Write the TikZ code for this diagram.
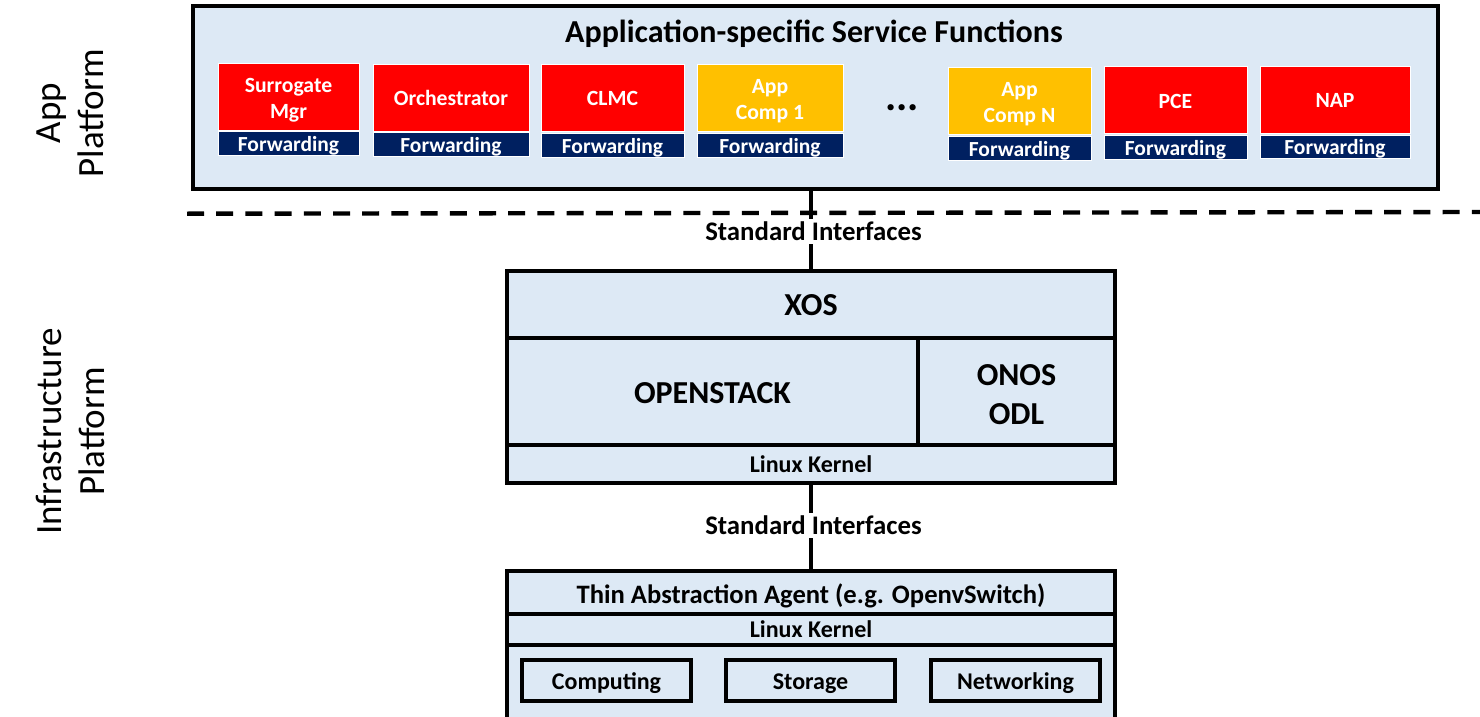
\documentclass[tikz,border=0pt]{standalone}
\usepackage{fontspec}
\setmainfont{Carlito}
\newcommand{\fs}[1]{\fontsize{#1}{#1}\selectfont}
\newcommand{\dn}[2]{\raisebox{-#1pt}[\height][\depth]{#2}}
\newcommand{\bx}[7]{%
 \pgfmathsetmacro{\bxw}{#4-#2}\pgfmathsetmacro{\bxh}{#5-#3}%
 \pgfmathsetmacro{\bxx}{(#4+#2)/2}\pgfmathsetmacro{\bxy}{(#5+#3)/2}%
 \node[#6,minimum width=\bxw pt,minimum height=\bxh pt] (#1) at (\bxx,\bxy) {#7};}
\definecolor{panelblue}{HTML}{DDE9F5}
\definecolor{amberc}{HTML}{FFC000}
\definecolor{navyc}{HTML}{002060}
\tikzset{
 x=1pt,y=-1pt,
 every node/.style={inner sep=0pt,outer sep=0pt,font=\bfseries,align=center},
 panel/.style={draw=black,line width=4.3pt,fill=panelblue},
 inner/.style={draw=black,line width=4.3pt,fill=panelblue},
 redbox/.style={draw=white,line width=1pt,fill=red,text=white,font=\bfseries\fs{21.7}},
 ambox/.style={draw=white,line width=1pt,fill=amberc,text=white,font=\bfseries\fs{21.7}},
 fwbox/.style={draw=white,line width=1pt,fill=navyc,text=white,font=\bfseries\fs{21.5}},
 conn/.style={draw=black,line width=4pt},
 lab/.style={font=\bfseries\fs{26.8},outer sep=3pt},
 side/.style={font=\fs{37},rotate=90,align=center},
}
\begin{document}
\begin{tikzpicture}
\useasboundingbox (0,0) rectangle (1480,717);
\coordinate (dl) at (187,213.7);
\coordinate (dr) at (1480,212);
\draw[black,line width=4.4pt,dash pattern=on 17pt off 12.2pt] (dl) -- (dr);
\bx{app}{193}{6}{1438}{189}{panel}{}
\node[font=\bfseries\fs{32}] (title) at (814,33.5) {Application-specific Service Functions};
\bx{s1}{218}{64}{359}{130}{redbox}{\rule{0pt}{21pt}Surrogate\\[4pt]Mgr}
\bx{f1}{218}{131}{359}{155}{fwbox}{\dn{2.5}{Forwarding}}
\bx{s2}{373}{65}{529}{131}{redbox}{Orchestrator}
\bx{f2}{373}{132}{529}{156}{fwbox}{\dn{2.5}{Forwarding}}
\bx{s3}{541}{65}{684}{131}{redbox}{CLMC}
\bx{f3}{541}{133}{684}{157}{fwbox}{\dn{2.5}{Forwarding}}
\bx{s4}{697}{65}{843}{131}{ambox}{\rule{0pt}{21pt}App\\[4pt]Comp 1}
\bx{f4}{697}{133}{843}{157}{fwbox}{\dn{2.5}{Forwarding}}
\node[font=\bfseries\fs{42}] (dots) at (902,108) {...};
\bx{s5}{948}{68}{1091}{134}{ambox}{\rule{0pt}{21pt}App\\[4pt]Comp N}
\bx{f5}{948}{136}{1091}{160}{fwbox}{\dn{2.5}{Forwarding}}
\bx{s6}{1104}{67}{1247}{133}{redbox}{\dn{1}{PCE}}
\bx{f6}{1104}{135}{1247}{159}{fwbox}{\dn{2.5}{Forwarding}}
\bx{s7}{1260}{67}{1410}{133}{redbox}{NAP}
\bx{f7}{1260}{135}{1410}{158}{fwbox}{\dn{2.5}{Forwarding}}
\bx{xos}{507}{271}{1115}{338}{inner,font=\bfseries\fs{32}}{\dn{1}{XOS}}
\bx{ostack}{507}{338}{918}{445}{inner,font=\bfseries\fs{32}}{\dn{2}{OPENSTACK}}
\bx{onos}{918}{338}{1115}{445}{inner,font=\bfseries\fs{32}}{\rule{0pt}{27pt}ONOS\\[7pt]ODL}
\bx{kern}{507}{445}{1115}{483}{inner,font=\bfseries\fs{24}}{Linux Kernel}
\node[lab] (si1) at (813.5,231.5) {Standard Interfaces};
\node[lab] (si2) at (813.5,525.5) {Standard Interfaces};
\bx{thin}{507}{571}{1115}{614}{inner,font=\bfseries\fs{26.6}}{\dn{3}{Thin Abstraction Agent (e.g. OpenvSwitch)}}
\bx{kern2}{507}{614}{1115}{645}{inner,font=\bfseries\fs{24}}{Linux Kernel}
\bx{hw}{507}{645}{1115}{730}{inner}{}
\bx{comp}{522}{660}{691}{701}{inner,font=\bfseries\fs{24}}{\dn{3}{Computing}}
\bx{stor}{726}{660}{895}{701}{inner,font=\bfseries\fs{24}}{\dn{3}{Storage}}
\bx{netw}{931}{660}{1100}{701}{inner,font=\bfseries\fs{24}}{\dn{3}{Networking}}
\draw[conn] (app.south -| xos.north) -- (si1.north -| xos.north);
\draw[conn] (si1.south -| xos.north) -- (xos.north);
\draw[conn] (kern.south) -- (si2.north -| kern.south);
\draw[conn] (si2.south -| kern.south) -- (thin.north);
\node[side] (sapp) at (70,113) {App\\[6pt]Platform};
\node[side] (sinf) at (70,431.5) {Infrastructure\\[6pt]Platform};
\end{tikzpicture}
\end{document}
